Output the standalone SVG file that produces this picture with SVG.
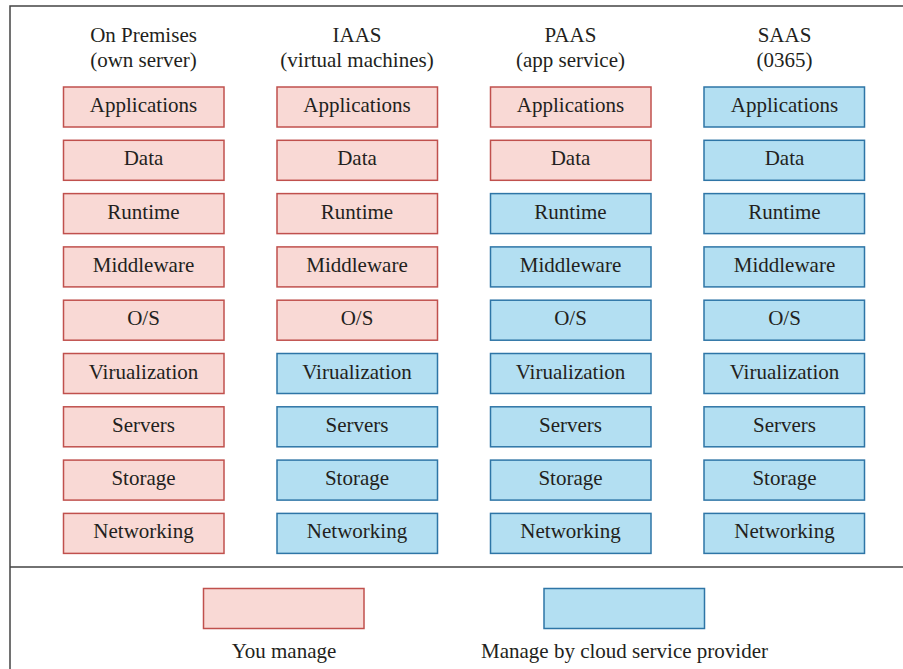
<svg xmlns="http://www.w3.org/2000/svg" width="903" height="669" viewBox="0 0 903 669">
<style>
text{font-family:"Liberation Serif","Times New Roman",serif;font-size:21px;fill:#231f20;text-anchor:middle}
.y rect{fill:#f9d9d5;stroke:#c0504d;stroke-width:1.5}
.c rect{fill:#b3dff2;stroke:#2e75a6;stroke-width:1.5}
.frame{fill:none;stroke:#444;stroke-width:1.5}
</style>
<rect width="903" height="669" fill="#fff"/>
<path class="frame" d="M10,669 V6 H903 M10,567 H903"/>
<g id="headers">
<text x="143.5" y="42">On Premises</text><text x="143.5" y="67">(own server)</text>
<text x="357" y="42">IAAS</text><text x="357" y="67">(virtual machines)</text>
<text x="570.5" y="42">PAAS</text><text x="570.5" y="67">(app service)</text>
<text x="784.5" y="42">SAAS</text><text x="784.5" y="67">(0365)</text>
</g>
<g id="col-onprem">
<g id="op-applications" class="y"><rect x="63.5" y="87" width="160.5" height="40"/><text x="143.5" y="112">Applications</text></g>
<g id="op-data" class="y"><rect x="63.5" y="140.3" width="160.5" height="40"/><text x="143.5" y="165.3">Data</text></g>
<g id="op-runtime" class="y"><rect x="63.5" y="193.6" width="160.5" height="40"/><text x="143.5" y="218.6">Runtime</text></g>
<g id="op-middleware" class="y"><rect x="63.5" y="246.9" width="160.5" height="40"/><text x="143.5" y="271.9">Middleware</text></g>
<g id="op-os" class="y"><rect x="63.5" y="300.2" width="160.5" height="40"/><text x="143.5" y="325.2">O/S</text></g>
<g id="op-virt" class="y"><rect x="63.5" y="353.5" width="160.5" height="40"/><text x="143.5" y="378.5">Virualization</text></g>
<g id="op-servers" class="y"><rect x="63.5" y="406.8" width="160.5" height="40"/><text x="143.5" y="431.8">Servers</text></g>
<g id="op-storage" class="y"><rect x="63.5" y="460.1" width="160.5" height="40"/><text x="143.5" y="485.1">Storage</text></g>
<g id="op-networking" class="y"><rect x="63.5" y="513.4" width="160.5" height="40"/><text x="143.5" y="538.4">Networking</text></g>
</g>
<g id="col-iaas">
<g id="ia-applications" class="y"><rect x="277" y="87" width="160.5" height="40"/><text x="357" y="112">Applications</text></g>
<g id="ia-data" class="y"><rect x="277" y="140.3" width="160.5" height="40"/><text x="357" y="165.3">Data</text></g>
<g id="ia-runtime" class="y"><rect x="277" y="193.6" width="160.5" height="40"/><text x="357" y="218.6">Runtime</text></g>
<g id="ia-middleware" class="y"><rect x="277" y="246.9" width="160.5" height="40"/><text x="357" y="271.9">Middleware</text></g>
<g id="ia-os" class="y"><rect x="277" y="300.2" width="160.5" height="40"/><text x="357" y="325.2">O/S</text></g>
<g id="ia-virt" class="c"><rect x="277" y="353.5" width="160.5" height="40"/><text x="357" y="378.5">Virualization</text></g>
<g id="ia-servers" class="c"><rect x="277" y="406.8" width="160.5" height="40"/><text x="357" y="431.8">Servers</text></g>
<g id="ia-storage" class="c"><rect x="277" y="460.1" width="160.5" height="40"/><text x="357" y="485.1">Storage</text></g>
<g id="ia-networking" class="c"><rect x="277" y="513.4" width="160.5" height="40"/><text x="357" y="538.4">Networking</text></g>
</g>
<g id="col-paas">
<g id="pa-applications" class="y"><rect x="490.5" y="87" width="160.5" height="40"/><text x="570.5" y="112">Applications</text></g>
<g id="pa-data" class="y"><rect x="490.5" y="140.3" width="160.5" height="40"/><text x="570.5" y="165.3">Data</text></g>
<g id="pa-runtime" class="c"><rect x="490.5" y="193.6" width="160.5" height="40"/><text x="570.5" y="218.6">Runtime</text></g>
<g id="pa-middleware" class="c"><rect x="490.5" y="246.9" width="160.5" height="40"/><text x="570.5" y="271.9">Middleware</text></g>
<g id="pa-os" class="c"><rect x="490.5" y="300.2" width="160.5" height="40"/><text x="570.5" y="325.2">O/S</text></g>
<g id="pa-virt" class="c"><rect x="490.5" y="353.5" width="160.5" height="40"/><text x="570.5" y="378.5">Virualization</text></g>
<g id="pa-servers" class="c"><rect x="490.5" y="406.8" width="160.5" height="40"/><text x="570.5" y="431.8">Servers</text></g>
<g id="pa-storage" class="c"><rect x="490.5" y="460.1" width="160.5" height="40"/><text x="570.5" y="485.1">Storage</text></g>
<g id="pa-networking" class="c"><rect x="490.5" y="513.4" width="160.5" height="40"/><text x="570.5" y="538.4">Networking</text></g>
</g>
<g id="col-saas">
<g id="sa-applications" class="c"><rect x="704" y="87" width="160.5" height="40"/><text x="784.5" y="112">Applications</text></g>
<g id="sa-data" class="c"><rect x="704" y="140.3" width="160.5" height="40"/><text x="784.5" y="165.3">Data</text></g>
<g id="sa-runtime" class="c"><rect x="704" y="193.6" width="160.5" height="40"/><text x="784.5" y="218.6">Runtime</text></g>
<g id="sa-middleware" class="c"><rect x="704" y="246.9" width="160.5" height="40"/><text x="784.5" y="271.9">Middleware</text></g>
<g id="sa-os" class="c"><rect x="704" y="300.2" width="160.5" height="40"/><text x="784.5" y="325.2">O/S</text></g>
<g id="sa-virt" class="c"><rect x="704" y="353.5" width="160.5" height="40"/><text x="784.5" y="378.5">Virualization</text></g>
<g id="sa-servers" class="c"><rect x="704" y="406.8" width="160.5" height="40"/><text x="784.5" y="431.8">Servers</text></g>
<g id="sa-storage" class="c"><rect x="704" y="460.1" width="160.5" height="40"/><text x="784.5" y="485.1">Storage</text></g>
<g id="sa-networking" class="c"><rect x="704" y="513.4" width="160.5" height="40"/><text x="784.5" y="538.4">Networking</text></g>
</g>
<g id="legend">
<g id="legend-you" class="y"><rect x="203.5" y="588.5" width="160.5" height="40"/></g>
<text x="284" y="658">You manage</text>
<g id="legend-cloud" class="c"><rect x="544" y="588.5" width="160.5" height="40"/></g>
<text x="624.5" y="658">Manage by cloud service provider</text>
</g>
<g id="connectors"/>
</svg>
